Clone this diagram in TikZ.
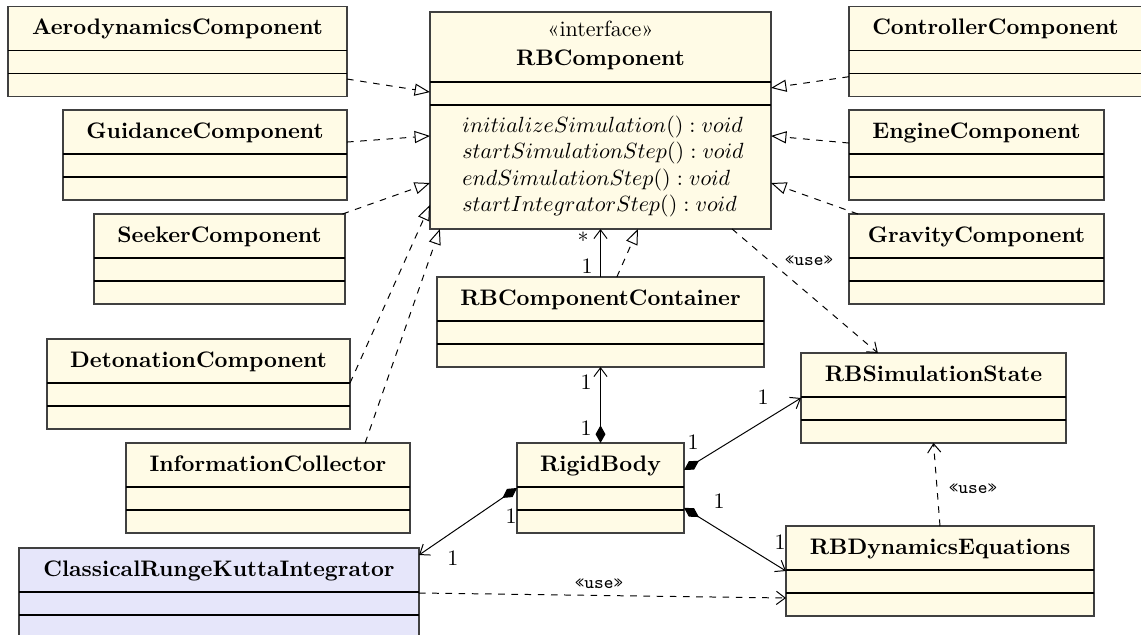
\documentclass[tikz,border=0pt]{standalone}
\usetikzlibrary{arrows.meta,calc,fit}

\definecolor{classfill}{HTML}{FFFBE6}
\definecolor{integfill}{HTML}{E6E6FA}

% A UML class box: [fill] name, left, top, right, title.
% Header is 44 units high, followed by two empty 23-unit compartments.
\newcommand\umlbox[6][classfill]{%
  \node[classbox, fill=#1, fit={(#3,#4) (#5,{#4+90})}] (#2) {};
  \node[classtitle] (#2-title) at ({(#3+#5)/2},{#4+28}) {#6};
  \draw[sep] (#2.west |- 0,{#4+44}) -- (#2.east |- 0,{#4+44});
  \draw[sep] (#2.west |- 0,{#4+67}) -- (#2.east |- 0,{#4+67});
}

\begin{document}
\begin{tikzpicture}[x=0.4545pt, y=-0.4545pt,
  classbox/.style={draw=black!75, line width=0.5pt, inner sep=0pt, outer sep=0pt},
  classtitle/.style={font=\fontsize{10.2}{12}\selectfont\bfseries, anchor=base, inner sep=0pt},
  sep/.style={line width=0.5pt, black},
  method/.style={anchor=base west, inner sep=0pt},
  mult/.style={anchor=base, inner sep=0pt},
  stereo/.style={anchor=base, inner sep=0pt, font=\fontsize{8.3}{10}\selectfont\ttfamily},
  link/.style={line width=0.45pt, black},
  realize/.style={link, dashed, -{Triangle[open, length=7pt, width=5.5pt]}},
  usedep/.style={link, dashed, -{Straight Barb[length=4pt, width=6pt]}},
  assoc/.style={link, -{Straight Barb[length=4pt, width=6pt]}},
  compose/.style={link, {Diamond[length=8pt, width=4.5pt]}-{Straight Barb[length=4pt, width=6pt]}}
]
\useasboundingbox (0,0) rectangle (1141,635);

% interface
\node[classbox, fill=classfill, fit={(430,12) (771,229)}] (rbc) {};
\node[anchor=base, inner sep=0pt] (rbc-stereo) at (600.5,36) {«interface»};
\node[classtitle] (rbc-title) at (600.5,65) {RBComponent};
\draw[sep] (rbc.west |- 0,82) -- (rbc.east |- 0,82);
\draw[sep] (rbc.west |- 0,105) -- (rbc.east |- 0,105);
\node[method] (m1) at (462,132) {$initializeSimulation() : void$};
\node[method] (m2) at (462,158) {$startSimulationStep() : void$};
\node[method] (m3) at (462,185) {$endSimulationStep() : void$};
\node[method] (m4) at (462,211) {$startIntegratorStep() : void$};

% implementing components
\umlbox{aero}{8}{6.5}{347}{AerodynamicsComponent}
\umlbox{guid}{63}{110}{347}{GuidanceComponent}
\umlbox{seek}{94}{214}{345}{SeekerComponent}
\umlbox{deto}{47}{339}{350}{DetonationComponent}
\umlbox{info}{126}{443}{410}{InformationCollector}
\umlbox{ctrl}{849}{6.5}{1142}{ControllerComponent}
\umlbox{engi}{849}{110}{1104}{EngineComponent}
\umlbox{grav}{849}{214}{1104}{GravityComponent}

% core classes
\umlbox{cont}{437}{277}{764}{RBComponentContainer}
\umlbox{body}{517}{443}{684}{RigidBody}
\umlbox{state}{801}{353}{1066}{RBSimulationState}
\umlbox{dyn}{786}{526}{1094}{RBDynamicsEquations}
\umlbox[integfill]{rk}{19}{548}{419}{ClassicalRungeKuttaIntegrator}

% realizations of the interface
\draw[realize] ($(aero.north east)!0.806!(aero.south east)$) -- ($(rbc.north west)!0.369!(rbc.south west)$);
\draw[realize] ($(guid.north east)!0.356!(guid.south east)$) -- ($(rbc.north west)!0.571!(rbc.south west)$);
\draw[realize] ($(seek.north east)!0.01!(seek.north west)$) -- ($(rbc.north west)!0.788!(rbc.south west)$);
\draw[realize] ($(deto.north east)!0.489!(deto.south east)$) -- ($(rbc.north west)!0.889!(rbc.south west)$);
\draw[realize] ($(info.north west)!0.842!(info.north east)$) -- ($(rbc.south west)!0.029!(rbc.south east)$);
\draw[realize] ($(ctrl.north west)!0.78!(ctrl.south west)$) -- ($(rbc.north east)!0.35!(rbc.south east)$);
\draw[realize] ($(engi.north west)!0.367!(engi.south west)$) -- ($(rbc.north east)!0.571!(rbc.south east)$);
\draw[realize] ($(grav.north west)!0.035!(grav.north east)$) -- ($(rbc.north east)!0.788!(rbc.south east)$);
\draw[realize] ($(cont.north west)!0.55!(cont.north east)$) -- ($(rbc.south west)!0.61!(rbc.south east)$);

% container holds the components
\draw[assoc] (cont.north) -- (cont.north |- rbc.south);
\node[mult] (mc1) at (583,248) {*};
\node[mult] (mc2) at (587,273) {1};

% rigid body composition
\draw[compose] (body.north) -- (cont.south);
\node[mult] (mb1) at (586,389) {1};
\node[mult] (mb2) at (586,435) {1};

\draw[compose] ($(body.north east)!0.3!(body.south east)$) -- (state.west);
\node[mult] (ms1) at (693,449) {1};
\node[mult] (ms2) at (763,404) {1};

\draw[compose] ($(body.north east)!0.72!(body.south east)$) -- (dyn.west);
\node[mult] (md1) at (719,508) {1};
\node[mult] (md2) at (780,549) {1};

\draw[compose] (body.west) -- ($(rk.north east)!0.078!(rk.south east)$);
\node[mult] (mr1) at (511,523) {1};
\node[mult] (mr2) at (453,565) {1};

% usage dependencies
\draw[usedep] ($(rbc.south west)!0.886!(rbc.south east)$) -- ($(state.north west)!0.29!(state.north east)$);
\node[stereo] (u1) at (809,265) {«use»};
\draw[usedep] (rk.east) -- ($(dyn.north west)!0.8!(dyn.south west)$);
\node[stereo] (u2) at (599,588) {«use»};
\draw[usedep] (dyn.north) -- (state.south);
\node[stereo] (u3) at (973,493) {«use»};
\end{tikzpicture}
\end{document}
